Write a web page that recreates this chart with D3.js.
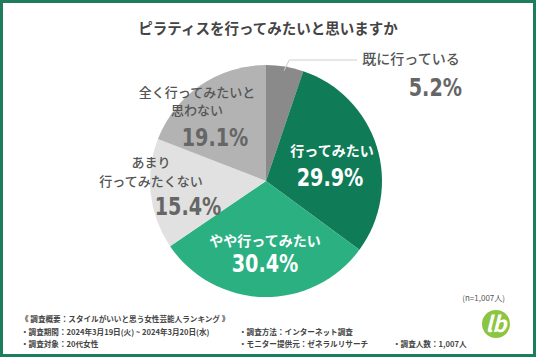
<!DOCTYPE html>
<html><head><meta charset="utf-8">
<script src="https://cdn.jsdelivr.net/npm/d3@7"></script>
<style>
html,body{margin:0;padding:0;background:#fff;}
svg{display:block;}
text{font-family:"Noto Sans CJK JP","Noto Sans",sans-serif;}
.pct{font-family:"DejaVu Sans",sans-serif;font-weight:bold;}
</style></head>
<body>
<script>
const title = "ピラティスを行ってみたいと思いますか";
const categories = ["既に行っている","行ってみたい","やや行ってみたい","あまり行ってみたくない","全く行ってみたいと思わない"];
const values = [5.2, 29.9, 30.4, 15.4, 19.1];
const colors = ["#8a8a8a","#0f7b57","#2bb082","#e1e1e1","#b3b3b3"];
const labelLines = [["既に行っている"],["行ってみたい"],["やや行ってみたい"],["あまり","行ってみたくない"],["全く行ってみたいと","思わない"]];
const sampleNote = "(n=1,007人)";
const notes = [
  ["《 調査概要：スタイルがいいと思う女性芸能人ランキング 》"],
  ["・調査期間：2024年3月19日(火) ~ 2024年3月20日(水)","・調査方法：インターネット調査"],
  ["・調査対象：20代女性","・モニター提供元：ゼネラルリサーチ","・調査人数：1,007人"]
];

const W=536,H=357;
const svg=d3.select("body").append("svg").attr("width",W).attr("height",H);
svg.append("rect").attr("x",1.5).attr("y",1.5).attr("width",W-3).attr("height",H-3)
  .attr("fill","#fff").attr("stroke","#1d7d5d").attr("stroke-width",3);

svg.append("text").attr("x",268).attr("y",34).attr("text-anchor","middle")
  .attr("font-size",14.5).attr("font-weight","bold").attr("fill","#444").text(title);

const cx=266,cy=181,r=116;
const pie=d3.pie().sort(null).value(d=>d)(values);
const arc=d3.arc().innerRadius(0).outerRadius(r);
const g=svg.append("g").attr("transform",`translate(${cx},${cy})`);
g.selectAll("path").data(pie).join("path").attr("d",arc).attr("fill",(d,i)=>colors[i]);

// leader line for small slice
const a0=(pie[0].startAngle+pie[0].endAngle)/2;
const p0=[cx+Math.sin(a0)*(r-4), cy-Math.cos(a0)*(r-4)];
svg.append("polyline").attr("points",`${p0[0]},${p0[1]} ${p0[0]+5},60 357,60`)
  .attr("fill","none").attr("stroke","#cfcfcf").attr("stroke-width",1);

// label placements (positions of text blocks)
const pos=[
  {x:411,ys:[64],fs:14,px:462,py:96,anchor:"end",tc:"#555",pc:"#666"},
  {x:332,ys:[156],fs:14,px:330,py:186,anchor:"middle",tc:"#fff",pc:"#fff"},
  {x:265,ys:[246],fs:14,px:265,py:272,anchor:"middle",tc:"#fff",pc:"#fff"},
  {x:151,ys:[167,186],fs:13,px:188,py:215,anchor:"middle",tc:"#555",pc:"#666"},
  {x:197,ys:[97,115],fs:13,px:215,py:146,anchor:"middle",tc:"#555",pc:"#666"}
];
pos.forEach((p,i)=>{
  labelLines[i].forEach((t,j)=>{
    svg.append("text").attr("x",p.x).attr("y",p.ys[j]).attr("text-anchor","middle")
      .attr("font-size",p.fs).attr("font-weight",i===1||i===2?"bold":"500").attr("fill",p.tc).text(t);
  });
  svg.append("text").attr("class","pct")
    .attr("transform",`translate(${p.px},${p.py}) scale(0.8,1)`)
    .attr("text-anchor",p.anchor).attr("font-size",24).attr("fill",p.pc)
    .text(values[i].toFixed(1)+"%");
});

svg.append("text").attr("x",505).attr("y",301).attr("text-anchor","end")
  .attr("font-size",8).attr("fill","#555").text(sampleNote);

const colX=[21,239,393], rowY=[322,335,347];
notes.forEach((row,ri)=>row.forEach((t,ci)=>{
  svg.append("text").attr("x",colX[ci]).attr("y",rowY[ri]).attr("font-size",7.6)
    .attr("font-weight","bold").attr("fill","#444").text(t);
}));

// logo
svg.append("circle").attr("cx",496).attr("cy",324).attr("r",14).attr("fill","#8cc540");
svg.append("text").attr("x",496).attr("y",332).attr("text-anchor","middle")
  .attr("font-size",22).attr("font-style","italic").attr("font-weight","bold")
  .attr("font-family","DejaVu Serif").attr("fill","#fff").text("lb");
</script>
</body></html>
